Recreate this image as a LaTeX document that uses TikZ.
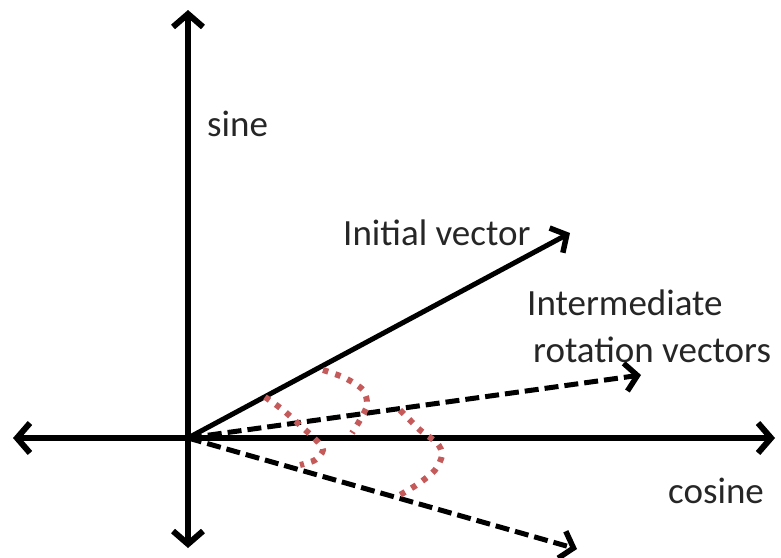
\documentclass[tikz,border=0pt]{standalone}
\usepackage{fontspec}
\setmainfont{Carlito}
\usepackage{xcolor}
\usepackage{tikz}
\usetikzlibrary{positioning,arrows.meta}

\definecolor{arcred}{RGB}{196,90,90}

\begin{document}
\begin{tikzpicture}[
  x=1pt, y=-1pt,
  every node/.style = {font=\fontsize{37}{44}\selectfont, text=black!85, inner sep=0pt},
  axis/.style  = {{Straight Barb[length=13pt,width=30pt,line width=6pt]}-{Straight Barb[length=13pt,width=30pt,line width=6pt]}, line width=6pt},
  vec/.style   = {-{Straight Barb[length=12pt,width=28pt,line width=5.5pt]}, line width=5pt},
  dvec/.style  = {vec, dash pattern=on 14pt off 6pt},
  turn/.style  = {arcred, line width=6pt, dash pattern=on 5.5pt off 7.5pt}
]
\useasboundingbox (0,0) rectangle (781,557);

% axes
\coordinate (O) at (188,438);
\coordinate (W) at (13,438);
\coordinate (E) at (775,438);
\coordinate (N) at (188,10);
\coordinate (S) at (188,548);

\draw[axis] (W) -- (E);
\draw[axis] (S) -- (N);

% vectors
\coordinate (init) at (570,233);
\coordinate (mid)  at (641,375);
\coordinate (low)  at (577,549);

\draw[vec]  (O) -- (init);
\draw[dvec] (O) -- (mid);
\draw[dvec] (O) -- (low);

% rotation steps
\draw[turn] plot[smooth] coordinates
  {(265,397) (283,410) (302,427) (316,440) (323,450) (315,460) (300,465)};
\draw[turn] plot[smooth] coordinates
  {(323,370) (345,378) (363,390) (367,405) (360,420) (352,433)};
\draw[turn] plot[smooth] coordinates
  {(400,410) (420,430) (437,443) (442,455) (435,470) (418,484) (398,496)};

% labels
\node[anchor=base west] (sine)   at (207,136) {sine};
\node[anchor=base west] (initl)  at (343,245) {Initial vector};
\node[anchor=base west] (inter)  at (527,315) {Intermediate};
\node[anchor=base west] (rotl)   at (533,362) {rotation vectors};
\node[anchor=base west] (cosl)   at (668,503) {cosine};
\end{tikzpicture}
\end{document}
